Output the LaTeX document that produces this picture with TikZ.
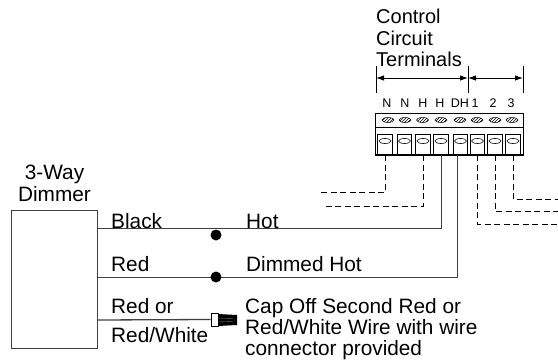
\documentclass[tikz,border=0pt]{standalone}
\usepackage{fontspec}
\setmainfont{Liberation Sans}
\usetikzlibrary{shapes.geometric, arrows.meta, patterns}
\tikzset{
    wire/.style = {line width = 0.9pt, black!75},
    dashwire/.style = {line width = 1pt, black, dash pattern = on 6pt off 3.5pt},
    terminal/.style = {draw, line width = 0.8pt, minimum width = 14.5pt, minimum height = 21pt, inner sep = 0pt, outer sep = 0pt},
    screw/.style = {draw, ellipse, line width = 0.5pt, pattern = north east lines, minimum width = 12pt, minimum height = 5pt, inner sep = 0pt},
    slot/.style = {draw, ellipse, line width = 0.6pt, fill = white, minimum width = 12pt, minimum height = 5pt, inner sep = 0pt},
    termlabel/.style = {font = \fontsize{12.5}{14}\selectfont, inner sep = 0pt},
    lbl/.style = {font = \fontsize{20.8}{22}\selectfont, inner sep = 0pt, anchor = base west, align = left},
    toplbl/.style = {lbl, font = \fontsize{20}{22}\selectfont},
    dimension/.style = {line width = 0.9pt, {Latex[length = 8pt, width = 5.5pt]}-{Latex[length = 8pt, width = 5.5pt]}}
}
\begin{document}
\begin{tikzpicture}[x = 1pt, y = -1pt]
    \useasboundingbox (0,0) rectangle (558,362);
    % Morsettiera
    \node[draw, line width = 0.9pt, minimum width = 148pt, minimum height = 42pt, inner sep = 0pt] (block) at (449,134) {};
    \draw[line width = 0.7pt] (375,127) -- (523,127);
    \draw[line width = 1.2pt] (375,155) -- (523,155);
    \node[terminal] (t1) at (385,144.5) {};
    \node[terminal] (t2) at (404.5,144.5) {};
    \node[terminal] (t3) at (423,144.5) {};
    \node[terminal] (t4) at (441,144.5) {};
    \node[terminal] (t5) at (460.5,144.5) {};
    \node[terminal] (t6) at (477.5,144.5) {};
    \node[terminal] (t7) at (495,144.5) {};
    \node[terminal] (t8) at (513,144.5) {};
    \node[slot] (s1) at (385,141) {};
    \node[slot] (s2) at (404.5,141) {};
    \node[slot] (s3) at (423,141) {};
    \node[slot] (s4) at (441,141) {};
    \node[slot] (s5) at (460.5,141) {};
    \node[slot] (s6) at (477.5,141) {};
    \node[slot] (s7) at (495,141) {};
    \node[slot] (s8) at (513,141) {};
    % Viti
    \node[screw] (v1) at (388,120) {};
    \node[screw] (v2) at (405,120) {};
    \node[screw] (v3) at (422.5,120) {};
    \node[screw] (v4) at (441,120) {};
    \node[screw] (v5) at (460,120) {};
    \node[screw] (v6) at (477,120) {};
    \node[screw] (v7) at (495,120) {};
    \node[screw] (v8) at (512,120) {};
    % Etichette morsetti
    \node[termlabel] (n1) at (387,103) {N};
    \node[termlabel] (n2) at (405,103) {N};
    \node[termlabel] (n3) at (423,103) {H};
    \node[termlabel] (n4) at (440,103) {H};
    \node[termlabel] (n5) at (460,103) {DH};
    \node[termlabel] (n6) at (475,103) {1};
    \node[termlabel] (n7) at (493,103) {2};
    \node[termlabel] (n8) at (511,103) {3};
    % Quote
    \node[toplbl] (control) at (376,23) {Control};
    \node[toplbl] (circuit) at (376,45) {Circuit};
    \node[toplbl] (terminals) at (376,66) {Terminals};
    \coordinate (a) at (376,78);
    \coordinate (b) at (468,78);
    \coordinate (c) at (523,78);
    \draw[line width = 0.9pt] (376,66) -- (376,93);
    \draw[line width = 0.9pt] (468,66) -- (468,93);
    \draw[line width = 0.9pt] (523,66) -- (523,93);
    \draw[dimension] (a) -- (b);
    \draw[dimension] (b) -- (c);
    % Dimmer
    \node[draw, line width = 0.9pt, black!75, minimum width = 86pt, minimum height = 138pt, inner sep = 0pt] (dimmer) at (54,279) {};
    \node[lbl, anchor = base] (way) at (54.5,179) {3-Way};
    \node[lbl, anchor = base] (dimname) at (54.5,201) {Dimmer};
    % Fili
    \coordinate (hot) at (97,228);
    \coordinate (dim) at (97,277);
    \coordinate (cap) at (97,320);
    \coordinate (dh) at (457,155);
    \coordinate (e1) at (318,192);
    \coordinate (e2) at (325,206);
    \coordinate (e3) at (558,224);
    \coordinate (e4) at (558,211);
    \coordinate (e5) at (558,199);
    \draw[wire] (t4.south) |- (hot);
    \draw[wire] (dh) |- (dim);
    \draw[dashwire] (t1.south) |- (e1);
    \draw[dashwire] (t3.south) |- (e2);
    \draw[dashwire] (t6.south) |- (e3);
    \draw[dashwire] (t7.south) |- (e4);
    \draw[dashwire] (t8.south) |- (e5);
    \fill (216,235) circle (5.5pt);
    \fill (216,277) circle (5.5pt);
    % Cappuccio
    \node[draw, line width = 0.8pt, fill = white, minimum width = 7pt, minimum height = 13pt, inner sep = 0pt] (capbody) at (214.5,319.5) {};
    \draw[line width = 1.3pt, black!75] (cap) -- (capbody.west);
    \fill (218,314) -- (237,315) -- (237,325) -- (218,326) -- cycle;
    \draw[black!55, line width = 0.4pt] (218,318) -- (233,318.5);
    \draw[black!55, line width = 0.4pt] (218,322) -- (233,321.5);
    % Testi
    \node[lbl] (black) at (111,228) {Black};
    \node[lbl] (hotlabel) at (246,228) {Hot};
    \node[lbl] (red) at (111,271) {Red};
    \node[lbl] (dimlbl) at (246,271) {Dimmed Hot};
    \node[lbl] (redor) at (111,313) {Red or};
    \node[lbl] (redwhite) at (111,342) {Red/White};
    \node[lbl] (capoff) at (245,313) {Cap Off Second Red or};
    \node[lbl] (capwire) at (245,334) {Red/White Wire with wire};
    \node[lbl] (capconn) at (245,355) {connector provided};
\end{tikzpicture}
\end{document}
